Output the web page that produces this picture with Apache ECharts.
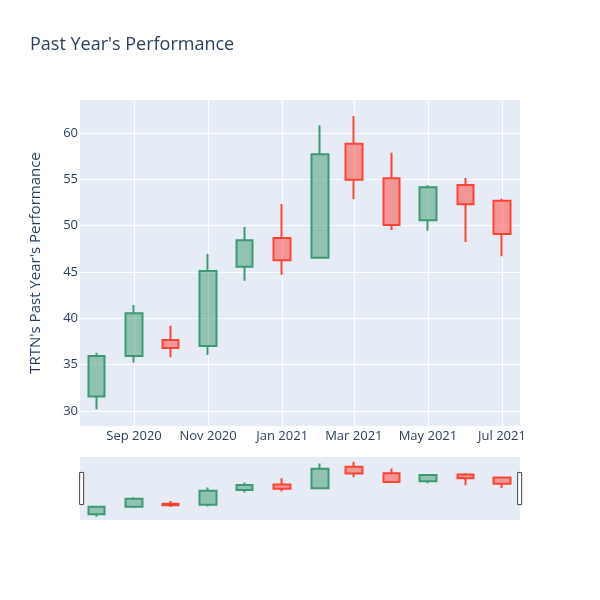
<!DOCTYPE html>
<html><head><meta charset="utf-8">
<script src="https://cdn.jsdelivr.net/npm/echarts@6/dist/echarts.min.js"></script>
<style>html,body{margin:0;padding:0;background:#fff}#c{width:600px;height:600px}</style>
</head><body><div id="c"></div>
<script>
const dates = ['2020-08-01','2020-09-01','2020-10-01','2020-11-01','2020-12-01','2021-01-01',
               '2021-02-01','2021-03-01','2021-04-01','2021-05-01','2021-06-01','2021-07-01'];
const opens  = [31.57, 35.94, 37.66, 37.01, 45.57, 48.67, 46.55, 58.85, 55.11, 50.58, 54.39, 52.70];
const closes = [35.94, 40.54, 36.80, 45.11, 48.42, 46.26, 57.70, 54.96, 50.07, 54.14, 52.30, 49.10];
const lows   = [30.18, 35.22, 35.80, 36.04, 44.06, 44.71, 46.55, 52.84, 49.53, 49.46, 48.24, 46.69];
const highs  = [36.29, 41.44, 39.21, 46.94, 49.86, 52.34, 60.83, 61.83, 57.88, 54.36, 55.14, 52.91];
const xTickDates = ['2020-09-01','2020-11-01','2021-01-01','2021-03-01','2021-05-01','2021-07-01'];
const yTicks = [30, 35, 40, 45, 50, 55, 60];
const monthNames = ['Jan','Feb','Mar','Apr','May','Jun','Jul','Aug','Sep','Oct','Nov','Dec'];

function parseDay(s) { const p = s.split('-').map(Number); return Date.UTC(p[0], p[1] - 1, p[2]); }
const xTicks = xTickDates.map(parseDay);
const ohlc = dates.map((d, i) => [parseDay(d), opens[i], closes[i], lows[i], highs[i]]);
const xMin = Date.UTC(2020, 6, 18, 12);
const xMax = Date.UTC(2021, 6, 15, 20);

const FONT = 'Open Sans';
const TXT = '#2a3f5f';
const candleStyle = {
  color: 'rgba(61,153,112,0.5)', color0: 'rgba(255,65,54,0.5)',
  borderColor: '#3D9970', borderColor0: '#FF4136', borderWidth: 2
};

const chart = echarts.init(document.getElementById('c'), null, {renderer: 'canvas'});
chart.setOption({
  backgroundColor: '#fff',
  animation: false,
  title: {
    text: "Past Year's Performance", left: 30, top: 36, padding: 0,
    textStyle: {fontFamily: FONT, fontSize: 18, fontWeight: 'normal', color: TXT}
  },
  grid: [
    {left: 80, right: 80, top: 100, height: 326, show: true, backgroundColor: '#E5ECF6', borderWidth: 0},
    {left: 80, right: 80, top: 457, height: 63, show: true, backgroundColor: '#E5ECF6', borderWidth: 0}
  ],
  xAxis: [
    {
      type: 'value', gridIndex: 0, min: xMin, max: xMax,
      axisLine: {show: false},
      axisTick: {show: false, customValues: xTicks},
      axisLabel: {
        customValues: xTicks, color: TXT, fontSize: 13, fontFamily: FONT, margin: 4,
        formatter: v => { const d = new Date(v); return monthNames[d.getUTCMonth()] + ' ' + d.getUTCFullYear(); }
      },
      splitLine: {show: true, lineStyle: {color: '#fff', width: 1}}
    },
    {type: 'value', gridIndex: 1, min: xMin, max: xMax, show: false, splitLine: {show: false}}
  ],
  yAxis: [
    {
      type: 'value', gridIndex: 0, min: 28.38, max: 63.56,
      name: "TRTN's Past Year's Performance", nameLocation: 'middle', nameGap: 37,
      nameTextStyle: {fontFamily: FONT, fontSize: 15, color: TXT},
      axisLine: {show: false},
      axisTick: {show: false, customValues: yTicks},
      axisLabel: {customValues: yTicks, color: TXT, fontSize: 13, fontFamily: FONT, margin: 2},
      splitLine: {show: true, lineStyle: {color: '#fff', width: 1}}
    },
    {type: 'value', gridIndex: 1, min: 28.3, max: 64.5, show: false, splitLine: {show: false}}
  ],
  dataZoom: [{
    type: 'slider', xAxisIndex: 1, filterMode: 'none', start: 0, end: 100, zoomLock: true,
    left: 80, right: 80, top: 457, height: 63,
    backgroundColor: 'rgba(0,0,0,0)', borderColor: 'rgba(0,0,0,0)', fillerColor: 'rgba(0,0,0,0)',
    showDataShadow: false, showDetail: false, brushSelect: false,
    moveHandleSize: 0, moveHandleStyle: {opacity: 0},
    handleIcon: 'path://M0,0H4V32H0Z', handleSize: '51%',
    handleStyle: {color: '#fff', borderColor: '#444', borderWidth: 1},
    emphasis: {handleStyle: {color: '#fff', borderColor: '#444', borderWidth: 1}, moveHandleStyle: {opacity: 0}}
  }],
  series: [
    {type: 'candlestick', xAxisIndex: 0, yAxisIndex: 0, data: ohlc, encode: {x: 0, y: [1, 2, 3, 4]},
     barWidth: 17, itemStyle: candleStyle},
    {type: 'candlestick', xAxisIndex: 1, yAxisIndex: 1, data: ohlc, encode: {x: 0, y: [1, 2, 3, 4]},
     barWidth: 17, itemStyle: candleStyle, silent: true}
  ]
});
</script>
</body></html>
